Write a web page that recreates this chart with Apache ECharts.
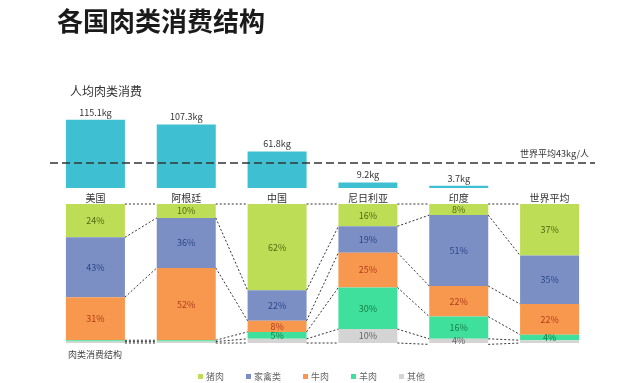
<!DOCTYPE html>
<html>
<head>
<meta charset="utf-8">
<script src="https://cdn.jsdelivr.net/npm/echarts@6/dist/echarts.min.js"></script>
<style>
html,body{margin:0;padding:0;background:#fff;}
#c{width:641px;height:383px;}
</style>
</head>
<body>
<div id="c"></div>
<script>
const categories = ['美国', '阿根廷', '中国', '尼日利亚', '印度', '世界平均'];
const perCapita = [115.1, 107.3, 61.8, 9.2, 3.7, null];
const worldAvg = 43;
const meatNames = ['猪肉', '家禽类', '牛肉', '羊肉', '其他'];
const pork    = [24, 10, 62, 16, 8, 37];
const poultry = [43, 36, 22, 19, 51, 35];
const beef    = [31, 52, 8, 25, 22, 22];
const mutton  = [1, 1, 5, 30, 16, 4];
const other   = [1, 1, 3, 10, 4, 2];

const FONT = '"Noto Sans CJK SC", "Noto Sans", sans-serif';
const BAR_W = 59;
const meatSeries = [pork, poultry, beef, mutton, other];
const meatColors = ['#bedd57', '#7b8fc4', '#f7984e', '#3fdf9c', '#d4d4d4'];
const labelColors = ['#4d6b12', '#2c4688', '#b23c1c', '#17804a', '#666666'];

const chart = echarts.init(document.getElementById('c'), null, {renderer: 'canvas'});

const bars = meatSeries.map((arr, k) => ({
  name: meatNames[k],
  type: 'bar',
  stack: 'meat',
  xAxisIndex: 1,
  yAxisIndex: 1,
  barWidth: BAR_W,
  data: arr,
  itemStyle: {color: meatColors[k]},
  label: {
    show: true,
    position: 'inside',
    fontSize: 9,
    fontFamily: FONT,
    color: labelColors[k],
    formatter: p => (p.value >= 4 ? p.value + '%' : '')
  },
  z: 2
}));

const links = {
  type: 'custom',
  xAxisIndex: 1,
  yAxisIndex: 1,
  data: categories.slice(0, -1).map((c, i) => [i, 0]),
  encode: {x: 0, y: 1},
  silent: true,
  z: 3,
  renderItem: function (params, api) {
    const i = params.dataIndex;
    const xa = api.coord([i, 0])[0] + BAR_W / 2;
    const xb = api.coord([i + 1, 0])[0] - BAR_W / 2;
    const children = [];
    let ca = 0, cb = 0;
    for (let k = 0; k <= meatSeries.length; k++) {
      const ya = api.coord([i, ca])[1];
      const yb = api.coord([i + 1, cb])[1];
      children.push({
        type: 'line',
        shape: {x1: xa, y1: ya, x2: xb, y2: yb},
        style: {stroke: '#333', lineWidth: 1, lineDash: [2, 2]}
      });
      if (k < meatSeries.length) {
        ca += meatSeries[k][i];
        cb += meatSeries[k][i + 1];
      }
    }
    return {type: 'group', children: children};
  }
};

chart.setOption({
  backgroundColor: '#ffffff',
  animation: false,
  textStyle: {fontFamily: FONT},
  title: [
    {text: '各国肉类消费结构', left: 57, top: 8, padding: 0,
     textStyle: {fontSize: 26, fontWeight: 'bold', color: '#1a1a1a', fontFamily: FONT}},
    {text: '人均肉类消费', left: 70, top: 85, padding: 0,
     textStyle: {fontSize: 12, fontWeight: 'normal', color: '#333', fontFamily: FONT}},
    {text: '肉类消费结构', left: 68, top: 350, padding: 0,
     textStyle: {fontSize: 9, fontWeight: 'normal', color: '#444', fontFamily: FONT}}
  ],
  legend: {
    data: meatNames,
    left: 193,
    top: 367,
    icon: 'rect',
    itemWidth: 5,
    itemHeight: 5,
    itemGap: 22,
    textStyle: {fontSize: 9, color: '#666', fontFamily: FONT, padding: [0, 0, 0, -2]}
  },
  grid: [
    {left: 50, right: 46, top: 111, height: 77},
    {left: 50, right: 46, top: 204, height: 139}
  ],
  xAxis: [
    {type: 'category', gridIndex: 0, data: categories,
     axisLine: {show: false}, axisTick: {show: false},
     axisLabel: {fontSize: 10, color: '#333', margin: 5, fontFamily: FONT}},
    {type: 'category', gridIndex: 1, data: categories, show: false}
  ],
  yAxis: [
    {type: 'value', gridIndex: 0, min: 0, max: 130, show: false, splitLine: {show: false}},
    {type: 'value', gridIndex: 1, min: 0, max: 100, inverse: true, show: false, splitLine: {show: false}}
  ],
  series: [
    {
      name: '人均肉类消费',
      type: 'bar',
      xAxisIndex: 0,
      yAxisIndex: 0,
      barWidth: BAR_W,
      data: perCapita,
      itemStyle: {color: '#3fc0d2'},
      label: {show: true, position: 'top', distance: 3, fontSize: 9, color: '#333',
              fontFamily: FONT, formatter: '{c}kg'},
      markLine: {
        silent: true,
        symbol: 'none',
        data: [{yAxis: worldAvg}],
        lineStyle: {type: [8, 4], color: '#333', width: 1.5},
        label: {show: true, position: 'insideEndTop', distance: [6, 4], fontSize: 9,
                color: '#333', fontFamily: FONT, formatter: '世界平均43kg/人'}
      }
    },
    ...bars,
    links
  ]
});
</script>
</body>
</html>
